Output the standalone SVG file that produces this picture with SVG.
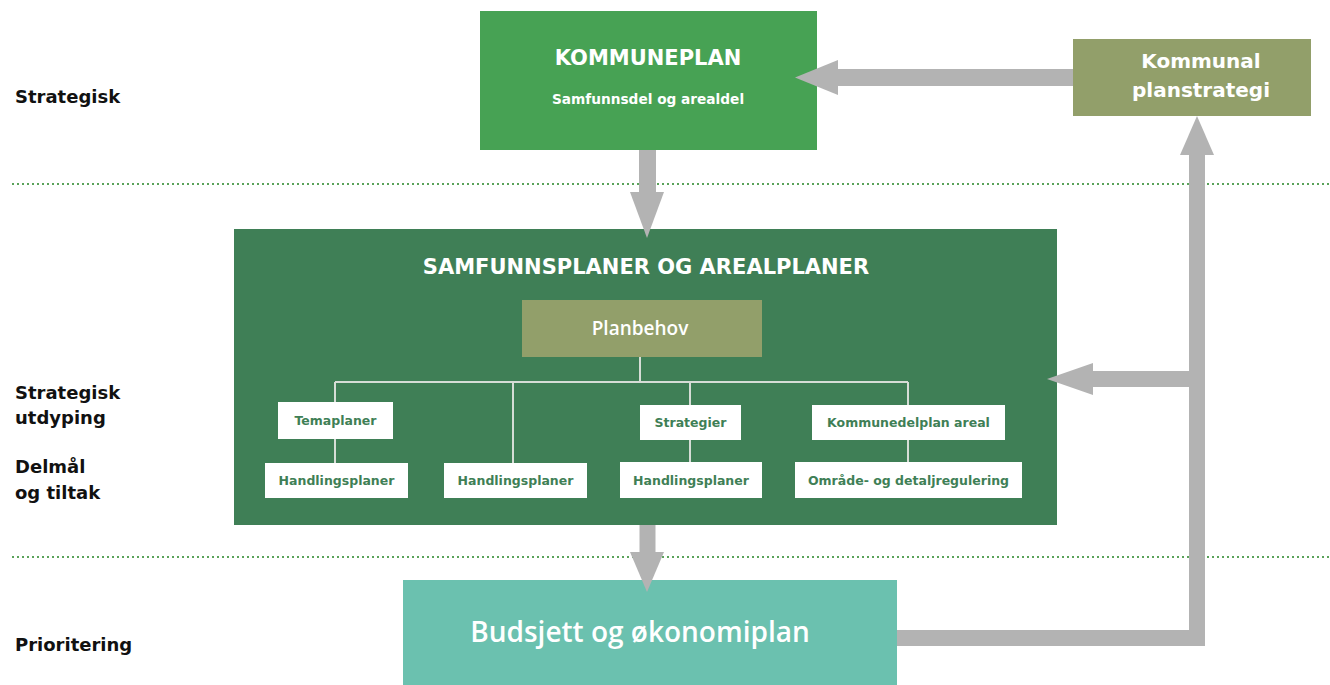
<svg xmlns="http://www.w3.org/2000/svg" width="1330" height="685" viewBox="0 0 1330 685">
<style>
.lbl{font-family:"DejaVu Sans","Liberation Sans",sans-serif;font-weight:bold;font-size:18px;fill:#111}
.ws{font-family:"DejaVu Sans","Liberation Sans",sans-serif;font-weight:bold;fill:#fff;text-anchor:middle}
.os{font-family:"Open Sans","Liberation Sans",sans-serif;font-weight:600;fill:#fff;text-anchor:middle}
.wb{fill:#fff}
.wt{font-family:"DejaVu Sans","Liberation Sans",sans-serif;font-weight:bold;font-size:12.5px;fill:#3f7f56;text-anchor:middle}
.tree{stroke:#d6ddd6;stroke-width:2;fill:none}
.dot{stroke:#5aa35a;stroke-width:2;stroke-dasharray:2 3;fill:none}
.arr{fill:#b3b3b3}
.bar{stroke:#b3b3b3;fill:none}
</style>
<rect width="1330" height="685" fill="#fff"/>
<g id="dividers">
<line class="dot" x1="12" y1="184" x2="1330" y2="184"/>
<line class="dot" x1="12" y1="557" x2="1330" y2="557"/>
</g>
<g id="labels">
<text class="lbl" x="15" y="103">Strategisk</text>
<text class="lbl" x="15" y="399">Strategisk</text>
<text class="lbl" x="15" y="424">utdyping</text>
<text class="lbl" x="15" y="473">Delmål</text>
<text class="lbl" x="15" y="499">og tiltak</text>
<text class="lbl" x="15" y="651">Prioritering</text>
</g>
<g id="kommuneplan">
<rect x="480" y="11" width="337" height="139" fill="#47a254"/>
<text class="ws" x="648" y="65" font-size="21">KOMMUNEPLAN</text>
<text class="ws" x="648" y="104" font-size="13.7">Samfunnsdel og arealdel</text>
</g>
<g id="planstrategi">
<rect x="1073" y="39" width="238" height="77" fill="#929f6a"/>
<text class="ws" x="1201" y="68" font-size="20">Kommunal</text>
<text class="ws" x="1201" y="97" font-size="20">planstrategi</text>
</g>
<g id="samfunnsplaner">
<rect x="234" y="229" width="823" height="296" fill="#3f7f56"/>
<text class="ws" x="646" y="274" font-size="21">SAMFUNNSPLANER OG AREALPLANER</text>
</g>
<g id="tree">
<path class="tree" d="M640 357V382M335 382H908M335 382V463M513 382V463M690 382V463M908 382V463"/>
</g>
<g id="planbehov">
<rect x="522" y="300" width="240" height="57" fill="#929f6a"/>
<text class="os" x="640" y="335" font-size="19">Planbehov</text>
</g>
<g id="temaplaner">
<rect class="wb" x="278" y="402" width="115" height="37"/>
<text class="wt" x="335.5" y="425">Temaplaner</text>
</g>
<g id="handlingsplaner1">
<rect class="wb" x="265" y="463" width="143" height="35"/>
<text class="wt" x="336.5" y="485">Handlingsplaner</text>
</g>
<g id="handlingsplaner2">
<rect class="wb" x="444" y="463" width="143" height="35"/>
<text class="wt" x="515.5" y="485">Handlingsplaner</text>
</g>
<g id="strategier">
<rect class="wb" x="640" y="405" width="101" height="35"/>
<text class="wt" x="690.5" y="427">Strategier</text>
</g>
<g id="handlingsplaner3">
<rect class="wb" x="620" y="462" width="142" height="36"/>
<text class="wt" x="691" y="485">Handlingsplaner</text>
</g>
<g id="kommunedelplan">
<rect class="wb" x="812" y="405" width="193" height="35"/>
<text class="wt" x="908.5" y="427">Kommunedelplan areal</text>
</g>
<g id="omraderegulering">
<rect class="wb" x="795" y="462" width="227" height="36"/>
<text class="wt" x="908.5" y="485">Område- og detaljregulering</text>
</g>
<g id="budsjett">
<rect x="403" y="580" width="494" height="105" fill="#6bc1af"/>
<text class="os" x="640" y="642" font-size="28">Budsjett og økonomiplan</text>
</g>
<g id="connectors">
<line class="bar" x1="1073" y1="77.5" x2="836" y2="77.5" stroke-width="17"/>
<polygon class="arr" points="838,60 795,77.5 838,95"/>
<line class="bar" x1="647.5" y1="150" x2="647.5" y2="194" stroke-width="17"/>
<polygon class="arr" points="630,192 664,192 647,238"/>
<line class="bar" x1="647.5" y1="525" x2="647.5" y2="554" stroke-width="16"/>
<polygon class="arr" points="630,552 664,552 647,592"/>
<path class="bar" d="M897 638H1197V153" stroke-width="16"/>
<polygon class="arr" points="1180,155 1214,155 1197,116"/>
<line class="bar" x1="1197" y1="379" x2="1091" y2="379" stroke-width="16"/>
<polygon class="arr" points="1093,363 1047,379 1093,395"/>
</g>
</svg>
